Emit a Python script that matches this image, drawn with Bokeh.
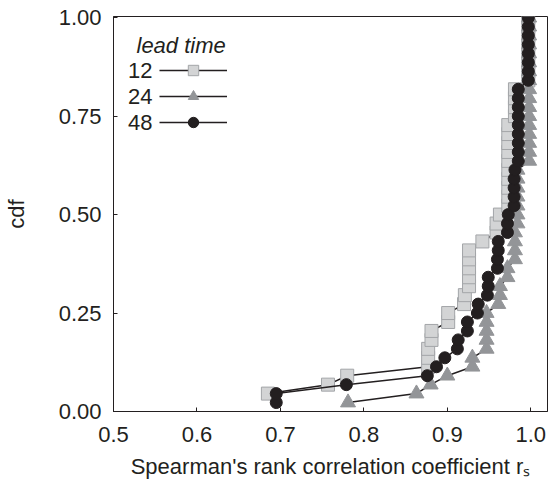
from bokeh.plotting import figure
from bokeh.models import (Range1d, FixedTicker, Legend, LegendItem, Label,
                          NumeralTickFormatter, ColumnDataSource)
from bokeh.core.properties import value
from bokeh.embed import file_html
from bokeh.resources import INLINE
import numpy as np

# ---------------- data ----------------
N_STATIONS = 44
lead_times = ["12", "24", "48"]

# sorted Spearman rank correlation coefficients per lead time
rs_12 = [0.685, 0.757, 0.780, 0.877, 0.877, 0.877, 0.881, 0.881, 0.901, 0.901,
         0.920, 0.921, 0.926, 0.926, 0.926, 0.926, 0.926, 0.942, 0.959, 0.959,
         0.963, 0.973, 0.973, 0.973, 0.973, 0.973, 0.973, 0.973, 0.973, 0.973,
         0.973, 0.981, 0.981, 0.981, 0.981, 0.997, 0.997, 0.997, 0.997, 0.997,
         0.997, 0.997, 0.997]
rank_12 = list(range(2, 45))

rs_24 = [0.781, 0.863, 0.880, 0.900, 0.930, 0.930, 0.947, 0.947, 0.947, 0.947,
         0.947, 0.961, 0.963, 0.963, 0.972, 0.972, 0.981, 0.981, 0.981, 0.981,
         0.984, 0.984, 0.984, 0.984, 0.984, 0.984, 0.984, 0.998, 0.998, 0.998,
         0.998, 0.998, 0.998, 0.998, 0.998, 0.998, 0.998, 0.998, 0.998, 0.998,
         0.998, 0.998, 0.998, 0.998]
rank_24 = list(range(1, 45))

rs_48 = [0.695, 0.695, 0.779, 0.876, 0.887, 0.897, 0.912, 0.913, 0.924, 0.924,
         0.936, 0.937, 0.948, 0.949, 0.949, 0.960, 0.960, 0.961, 0.961, 0.972,
         0.972, 0.973, 0.980, 0.980, 0.980, 0.980, 0.981, 0.985, 0.985, 0.985,
         0.985, 0.985, 0.985, 0.985, 0.985, 0.985, 0.997, 0.997, 0.997, 0.997,
         0.997, 0.997, 0.997, 0.997]
rank_48 = list(range(1, 45))

x_ticks = [0.5, 0.6, 0.7, 0.8, 0.9, 1.0]
y_ticks = [0.0, 0.25, 0.5, 0.75, 1.0]

# ---------------- figure ----------------
INK = "#231f20"
FONT = "Liberation Sans"

p = figure(width=548, height=481, output_backend="svg", toolbar_location=None,
           x_range=Range1d(0.5, 1.02), y_range=Range1d(0, 1.003),
           min_border_left=105, min_border_right=1, min_border_top=16,
           min_border_bottom=69)
p.grid.visible = False
p.outline_line_color = INK
p.outline_line_width = 1
p.background_fill_color = "white"
p.border_fill_color = "white"

for ax in (p.xaxis[0], p.yaxis[0]):
    ax.major_tick_in = 4
    ax.major_tick_out = 0
    ax.minor_tick_in = 0
    ax.minor_tick_out = 0
    ax.axis_line_color = INK
    ax.major_tick_line_color = INK
    ax.major_label_text_font = FONT
    ax.major_label_text_font_size = "22px"
    ax.major_label_text_color = INK
    ax.axis_label_text_font = FONT
    ax.axis_label_text_font_size = "22px"
    ax.axis_label_text_font_style = "normal"
    ax.axis_label_text_color = INK

p.xaxis.ticker = FixedTicker(ticks=x_ticks)
p.xaxis.formatter = NumeralTickFormatter(format="0.0")
p.xaxis.major_label_standoff = 15
p.xaxis.axis_label = "Spearman's rank correlation coefficient r\u209b"
p.xaxis.axis_label_standoff = 9

p.yaxis.ticker = FixedTicker(ticks=y_ticks)
p.yaxis.formatter = NumeralTickFormatter(format="0.00")
p.yaxis.major_label_standoff = 12
p.yaxis.axis_label = "cdf"
p.yaxis.axis_label_standoff = 27

# ---------------- series ----------------
def series(rs, ranks):
    return ColumnDataSource(dict(x=rs, y=np.array(ranks) / N_STATIONS))

src12 = series(rs_12, rank_12)
src24 = series(rs_24, rank_24)
src48 = series(rs_48, rank_48)

l12 = p.line("x", "y", source=src12, line_color=INK, line_width=1.5)
m12 = p.scatter("x", "y", source=src12, marker="square", size=13,
                fill_color="#d3d4d5", line_color="#a3a5a8", line_width=1)
l24 = p.line("x", "y", source=src24, line_color=INK, line_width=1.5)
m24 = p.scatter("x", "y", source=src24, marker="triangle", size=15,
                fill_color="#939598", line_color="#939598", line_width=1)
l48 = p.line("x", "y", source=src48, line_color=INK, line_width=1.5)
m48 = p.scatter("x", "y", source=src48, marker="circle", size=12,
                fill_color=INK, line_color=INK, line_width=1)

legend = Legend(items=[LegendItem(label=value(""), renderers=[l12, m12]),
                       LegendItem(label=value(""), renderers=[l24, m24]),
                       LegendItem(label=value(""), renderers=[l48, m48])],
                location=(46, 276), glyph_width=68, glyph_height=26,
                spacing=0, padding=0, margin=0, label_width=0,
                label_standoff=0, label_height=20,
                border_line_alpha=0, background_fill_alpha=0,
                label_text_font_size="1px")
p.add_layout(legend)

p.add_layout(Label(x=23, y=366, x_units="screen", y_units="screen",
                   text="lead time", text_font=FONT, text_font_size="22px",
                   text_font_style="italic", text_color=INK,
                   text_baseline="middle", text_align="left"))
for txt, yy in zip(lead_times, [341, 315, 289]):
    p.add_layout(Label(x=39, y=yy, x_units="screen", y_units="screen",
                       text=txt, text_font=FONT, text_font_size="22px",
                       text_color=INK, text_baseline="middle",
                       text_align="right"))

open("out.html", "w").write(file_html(p, INLINE))
